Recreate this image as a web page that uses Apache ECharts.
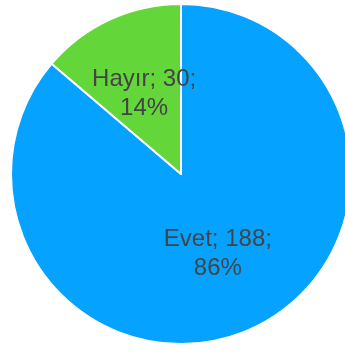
<!DOCTYPE html>
<html>
<head>
<meta charset="utf-8">
<script src="https://cdn.jsdelivr.net/npm/echarts@6/dist/echarts.min.js"></script>
<style>
html, body { margin: 0; padding: 0; background: #fff; }
#main { width: 345px; height: 352px; }
</style>
</head>
<body>
<div id="main"></div>
<script>
// pasta grafiği
var categories = ['Evet', 'Hayır'];
var values = [188, 30];
var colors = ['#05A2FF', '#63D63A'];

var pieChart = echarts.init(document.getElementById('main'));

var pieData = [];
for (var i = 0; i < categories.length; i++) {
    pieData.push({ name: categories[i], value: values[i], itemStyle: { color: colors[i] } });
}

var option = {
    animation: false,
    series: [{
        type: 'pie',
        center: [181, 174],
        radius: 170,
        startAngle: 90,
        clockwise: true,
        percentPrecision: 0,
        itemStyle: { borderColor: '#fff', borderWidth: 2 },
        label: {
            show: true,
            position: 'inner',
            formatter: '{b}; {c};\n{d}%',
            fontFamily: 'Liberation Sans, Arial, sans-serif',
            fontSize: 24,
            lineHeight: 29,
            color: '#444',
            align: 'center'
        },
        labelLine: { show: false },
        data: pieData
    }]
};

pieChart.setOption(option);
</script>
</body>
</html>
